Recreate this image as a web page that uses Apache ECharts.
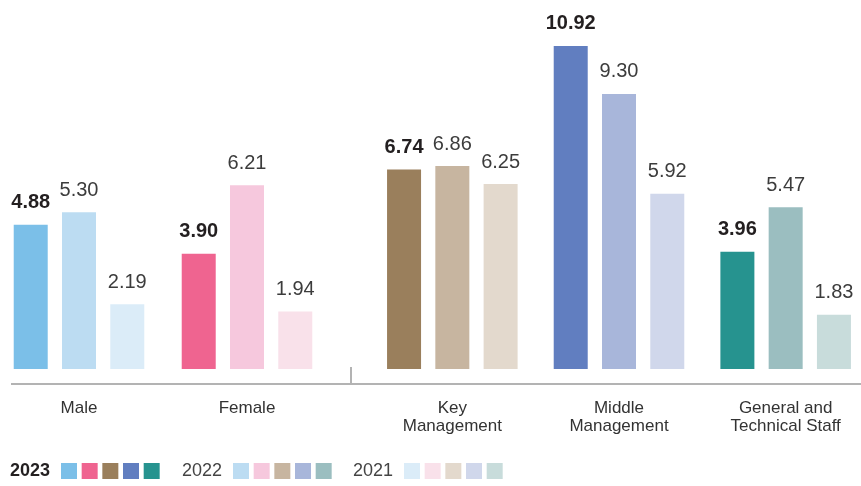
<!DOCTYPE html>
<html>
<head>
<meta charset="utf-8">
<script src="https://cdn.jsdelivr.net/npm/echarts@6/dist/echarts.min.js"></script>
<style>
  html, body { margin: 0; padding: 0; background: #ffffff; }
  #chart { width: 861px; height: 486px; }
</style>
</head>
<body>
<div id="chart"></div>
<script>
// Categories: two groups (gender, staff level)
const genderCategories = ['Male', 'Female'];
const staffCategories = ['Key\nManagement', 'Middle\nManagement', 'General and\nTechnical Staff'];

// Values per year, in category order (gender first, then staff level)
const years = ['2023', '2022', '2021'];
const values2023 = [4.88, 3.90, 6.74, 10.92, 3.96];
const values2022 = [5.30, 6.21, 6.86, 9.30, 5.47];
const values2021 = [2.19, 1.94, 6.25, 5.92, 1.83];

// Colour per category for each year (darkest = latest year)
const colors2023 = ['#7bbfe8', '#ef6490', '#9a7f5c', '#617ec0', '#26938f'];
const colors2022 = ['#bcdcf2', '#f6c8dd', '#c7b5a0', '#a8b6da', '#9bbec0'];
const colors2021 = ['#dbecf8', '#f9e1ea', '#e3d9cd', '#d0d7eb', '#c8dcdb'];

const FONT = '"Liberation Sans", Arial, sans-serif';
const yearValues = [values2023, values2022, values2021];
const yearColors = [colors2023, colors2022, colors2021];

function buildSeries(gridIndex, start, count) {
  return years.map((year, yi) => ({
    name: year,
    type: 'bar',
    xAxisIndex: gridIndex,
    yAxisIndex: gridIndex,
    barWidth: 34,
    barGap: '42%',
    data: yearValues[yi].slice(start, start + count).map((v, k) => ({
      value: v,
      itemStyle: { color: yearColors[yi][start + k] }
    })),
    label: {
      show: true,
      position: 'top',
      distance: 12,
      fontFamily: FONT,
      fontSize: 20,
      fontWeight: yi === 0 ? 'bold' : 'normal',
      color: yi === 0 ? '#231f20' : '#3c3c3c',
      formatter: p => p.value.toFixed(2)
    },
    emphasis: { disabled: true },
    silent: true
  }));
}

function categoryAxis(gridIndex, data) {
  return {
    type: 'category',
    gridIndex: gridIndex,
    data: data,
    axisLine: { show: false },
    axisTick: { show: false },
    axisLabel: {
      interval: 0,
      margin: 30,
      fontFamily: FONT,
      fontSize: 17,
      lineHeight: 18,
      color: '#333333'
    }
  };
}

function valueAxis(gridIndex) {
  return {
    type: 'value',
    gridIndex: gridIndex,
    min: 0,
    max: 12,
    show: false,
    splitLine: { show: false }
  };
}

// Legend: year label followed by one swatch per category colour
const legendGraphics = [];
const legendLayout = [
  { x: 10, swatchX: 61, bold: true },
  { x: 182, swatchX: 233, bold: false },
  { x: 353, swatchX: 404, bold: false }
];
years.forEach((year, yi) => {
  const L = legendLayout[yi];
  legendGraphics.push({
    type: 'text',
    left: L.x,
    top: 462,
    style: {
      text: year,
      fontFamily: FONT,
      fontSize: 18,
      fontWeight: L.bold ? 'bold' : 'normal',
      fill: L.bold ? '#231f20' : '#444444'
    }
  });
  yearColors[yi].forEach((c, ci) => {
    legendGraphics.push({
      type: 'rect',
      shape: { x: L.swatchX + ci * 20.67, y: 463, width: 16, height: 16 },
      style: { fill: c }
    });
  });
});

const chart = echarts.init(document.getElementById('chart'), null, { renderer: 'canvas' });
chart.setOption({
  animation: false,
  backgroundColor: '#ffffff',
  grid: [
    { left: -5, right: 530, top: 14, bottom: 117, containLabel: false, outerBoundsMode: 'none' },
    { left: 369, right: -8, top: 14, bottom: 117, containLabel: false, outerBoundsMode: 'none' }
  ],
  xAxis: [categoryAxis(0, genderCategories), categoryAxis(1, staffCategories)],
  yAxis: [valueAxis(0), valueAxis(1)],
  series: buildSeries(0, 0, genderCategories.length)
    .concat(buildSeries(1, genderCategories.length, staffCategories.length)),
  graphic: [
    // baseline under the bars
    {
      type: 'line',
      shape: { x1: 11, y1: 384, x2: 861, y2: 384 },
      style: { stroke: '#b3b3b3', lineWidth: 2 }
    },
    // divider between the two category groups
    {
      type: 'line',
      shape: { x1: 351, y1: 367, x2: 351, y2: 384 },
      style: { stroke: '#b3b3b3', lineWidth: 2 }
    }
  ].concat(legendGraphics)
});
</script>
</body>
</html>
